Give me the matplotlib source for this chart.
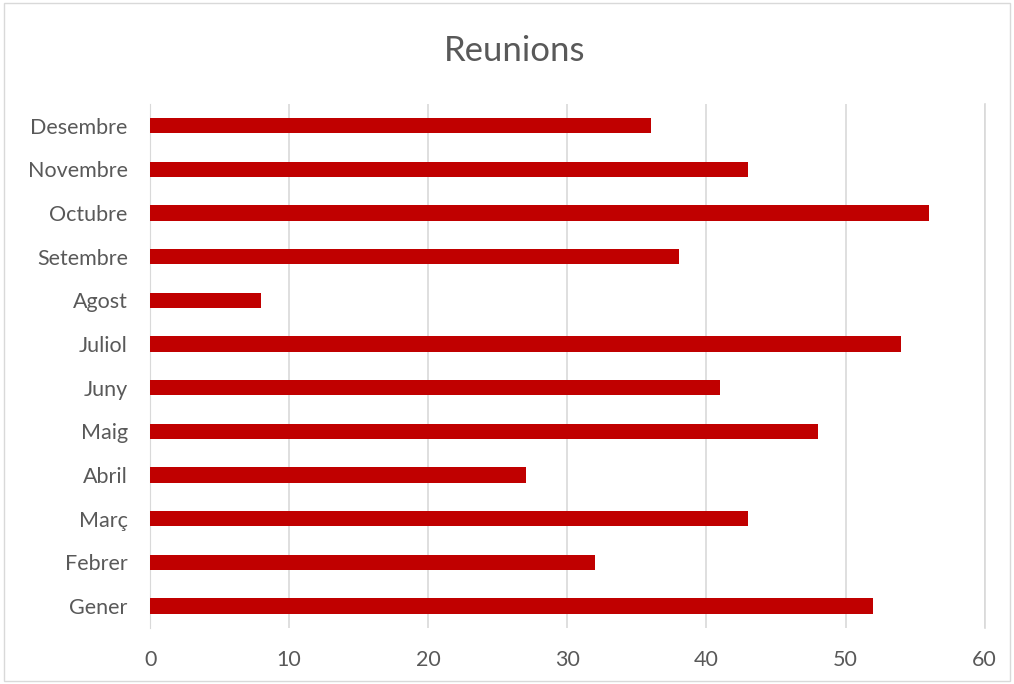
import matplotlib.pyplot as plt
from matplotlib.patches import Rectangle

months = ["Gener", "Febrer", "Març", "Abril", "Maig", "Juny",
          "Juliol", "Agost", "Setembre", "Octubre", "Novembre", "Desembre"]
reunions = [52, 32, 43, 27, 48, 41, 54, 8, 38, 56, 43, 36]
xticks = [0, 10, 20, 30, 40, 50, 60]

plt.rcParams['font.family'] = ['Lato', 'DejaVu Sans']

fig = plt.figure(figsize=(10.14, 6.84), dpi=100)
ax = fig.add_axes([0.148, 0.082, 0.823, 0.766])

ax.barh(range(len(months)), reunions, height=0.35, color="#C00000", zorder=3)

ax.set_xlim(0, 60)
ax.set_ylim(-0.5, len(months) - 0.5)
ax.set_xticks(xticks)
ax.set_yticks(range(len(months)))
ax.set_yticklabels(months)
ax.tick_params(axis="both", length=0, colors="#595959", labelsize=15.5)
ax.tick_params(axis="x", pad=16)
ax.tick_params(axis="y", pad=16)
ax.grid(axis="x", color="#d9d9d9", linewidth=1.2, zorder=0)
ax.axvline(60, color="#d9d9d9", linewidth=1.2, zorder=0, clip_on=False)
for s in ["top", "right", "bottom"]:
    ax.spines[s].set_visible(False)
ax.spines["left"].set_color("#d9d9d9")

fig.text(0.508, 0.925, "Reunions", ha="center", va="center",
         fontsize=25, color="#595959")

fig.patches.append(Rectangle((0.004, 0.004), 0.992, 0.992, transform=fig.transFigure,
                             fill=False, edgecolor="#d9d9d9", linewidth=1))

fig.savefig("out.png", dpi=100)
